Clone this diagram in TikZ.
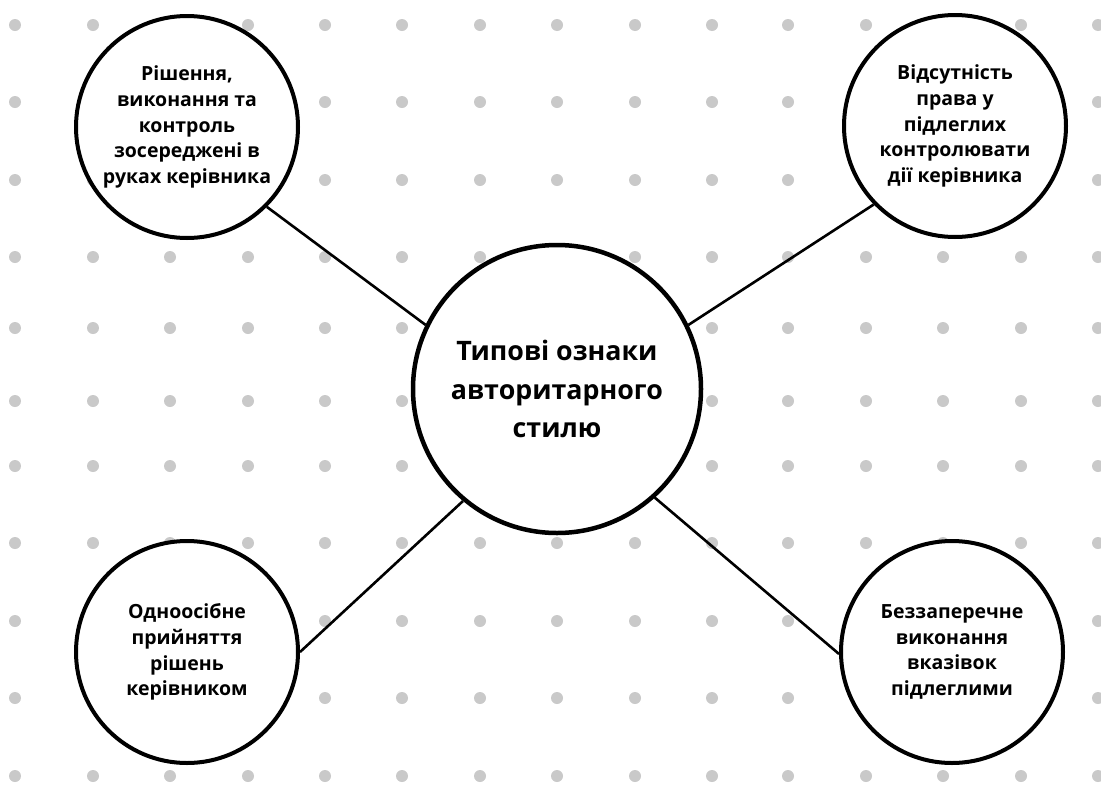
\documentclass[tikz,border=0pt]{standalone}
\usepackage{fontspec}
\setmainfont{Open Sans}
\definecolor{dotgray}{HTML}{C9C9C9}
\definecolor{inkblack}{HTML}{000000}
\begin{document}
\begin{tikzpicture}[x=1pt,y=-1pt,
  dotmark/.style={fill=dotgray,draw=none},
  outercircle/.style={circle,draw=inkblack,line width=4pt,fill=white,minimum size=222pt,inner sep=0pt,align=center,font=\fontsize{19.5}{25.8}\selectfont\bfseries},
  maincircle/.style={circle,draw=inkblack,line width=4.5pt,fill=white,minimum size=288pt,inner sep=0pt,align=center,font=\fontsize{26.8}{38.5}\selectfont\bfseries},
  link/.style={draw=inkblack,line width=2.6pt}]
\useasboundingbox (0,0) rectangle (1101,785);
\fill[white] (0,0) rectangle (1101,785);
% dot grid
\foreach \yy in {25,102,180,257,328,401,466,543,621,698,776}{
  \foreach \xx in {15,93,170,248,325,402,480,557,635,712,788,866,943,1021,1098}{
    \fill[dotmark] (\xx,\yy) circle (6pt);
  }
}
% nodes
\node[maincircle] (C) at (557,389) {Типові ознаки\\авторитарного\\стилю};
\node[outercircle] (TL) at (187,127) {Рішення,\\виконання та\\контроль\\зосереджені в\\руках керівника};
\node[outercircle] (TR) at (955,126) {Відсутність\\права у\\підлеглих\\контролювати\\дії керівника};
\node[outercircle] (BL) at (187,652) {Одноосібне\\прийняття\\рішень\\керівником};
\node[outercircle] (BR) at (952,652) {Беззаперечне\\виконання\\вказівок\\підлеглими};
% connectors
\draw[link] (TL.-45) -- (C.154.5);
\draw[link] (TR.224) -- (C.26.4);
\draw[link] (BL.0) -- (C.230.2);
\draw[link] (BR.181.5) -- (C.-48);
\end{tikzpicture}
\end{document}
